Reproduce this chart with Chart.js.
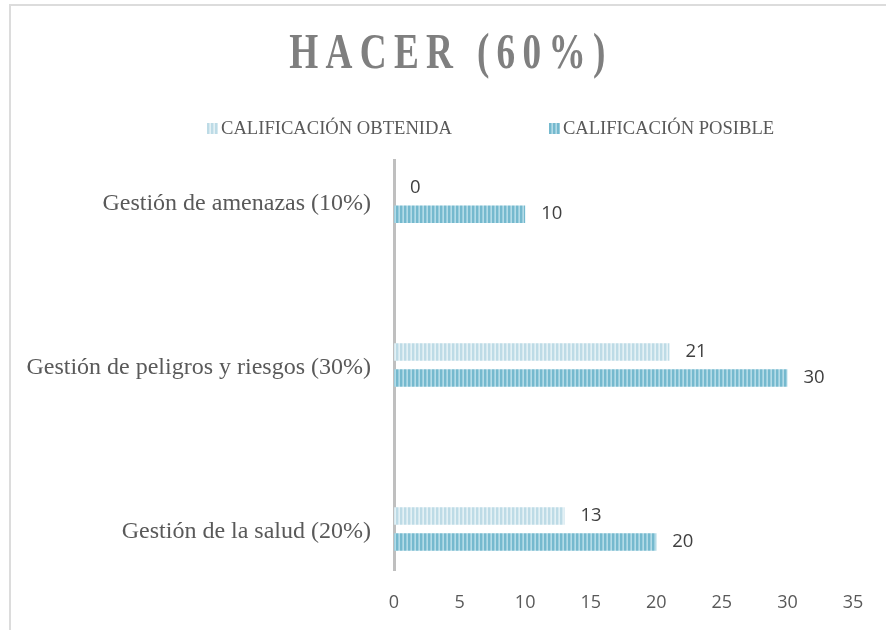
<!DOCTYPE html>
<html>
<head>
<meta charset="utf-8">
<script src="https://cdn.jsdelivr.net/npm/chart.js@4.4.1/dist/chart.umd.min.js"></script>
<style>
    html, body { margin: 0; padding: 0; background: #fff; overflow: hidden; }
    #frame { position: absolute; left: 9px; top: 4px; width: 1000px; height: 1000px; border: 2px solid #dcdcdc; }
    #wrap { position: absolute; left: 0; top: 0; width: 886px; height: 630px; }
    #legend { position: absolute; left: 207px; top: 119px; display: flex; gap: 97px;
        font-family: 'Liberation Serif', serif; font-size: 18.6px; line-height: 18px; color: #595959; }
    #legend span.item { display: flex; align-items: center; white-space: nowrap; }
    #legend i { display: inline-block; width: 11px; height: 11px; margin-right: 3px; }
</style>
</head>
<body>
<div id="frame"></div>
<div id="wrap"><canvas id="barChart"></canvas></div>
<div id="legend"></div>
<script>
const categories = ['Gestión de amenazas (10%)', 'Gestión de peligros y riesgos (30%)', 'Gestión de la salud (20%)'];
const obtenida = [0, 21, 13];
const posible = [10, 30, 20];
const seriesNames = ['CALIFICACIÓN OBTENIDA', 'CALIFICACIÓN POSIBLE'];

// vertical stripe fills like the excel pattern
function stripes(cols) {
    const c = document.createElement('canvas');
    c.width = cols.length;
    c.height = 4;
    const g = c.getContext('2d');
    cols.forEach((col, i) => { g.fillStyle = col; g.fillRect(i, 0, 1, 4); });
    return g.createPattern(c, 'repeat');
}
const lightCols = ['#bddbe6', '#bddbe6', '#d6e9f0', '#e4f1f5'];
const darkCols = ['#75b9ce', '#75b9ce', '#9ccfdf', '#b4dbe7'];

function cssStripes(cols) {
    return 'repeating-linear-gradient(90deg,' + cols.map((c, i) => c + ' ' + i + 'px ' + (i + 1) + 'px').join(',') + ')';
}

// title: condensed, letter spaced
const titleStyle = {
    id: 'titleStyle',
    afterLayout(chart) {
        const t = chart.titleBlock;
        if (!t || t._styled) return;
        const draw = t.draw.bind(t);
        t.draw = function (area) {
            const ctx = chart.ctx;
            const cx = (t.left + t.right) / 2;
            ctx.save();
            ctx.translate(cx + 11, 0);
            ctx.scale(0.73, 1);
            ctx.translate(-cx, 0);
            ctx.letterSpacing = '10px';
            draw(area);
            ctx.restore();
        };
        t._styled = true;
    }
};

const valueLabels = {
    id: 'valueLabels',
    afterDatasetsDraw(chart) {
        const ctx = chart.ctx;
        ctx.save();
        ctx.font = '18.5px "Open Sans"';
        ctx.fillStyle = '#404040';
        ctx.textAlign = 'left';
        ctx.textBaseline = 'middle';
        chart.data.datasets.forEach((ds, i) => {
            chart.getDatasetMeta(i).data.forEach((bar, j) => {
                ctx.fillText(ds.data[j].x, bar.x + 16, bar.y);
            });
        });
        ctx.restore();
    }
};

const ctxBar = document.getElementById('barChart').getContext('2d');
const barChart = new Chart(ctxBar, {
    type: 'bar',
    data: {
        datasets: [{
            label: seriesNames[0],
            data: obtenida.map((v, i) => ({ x: v, y: i })),
            backgroundColor: stripes(lightCols),
            categoryPercentage: 0.317,
            barPercentage: 0.673
        }, {
            label: seriesNames[1],
            data: posible.map((v, i) => ({ x: v, y: i })),
            backgroundColor: stripes(darkCols),
            categoryPercentage: 0.317,
            barPercentage: 0.673
        }]
    },
    options: {
        indexAxis: 'y',
        responsive: true,
        maintainAspectRatio: false,
        animation: false,
        layout: { padding: { left: 27, right: 33, top: 0, bottom: 17 } },
        plugins: {
            legend: { display: false },
            tooltip: { enabled: false },
            title: {
                display: true,
                text: 'HACER (60%)',
                color: '#7f7f7f',
                font: { family: 'Liberation Serif', size: 51, weight: 'bold' },
                padding: { top: 24, bottom: 75 }
            }
        },
        scales: {
            x: {
                min: 0,
                max: 35,
                grid: { display: false, drawTicks: false },
                border: { display: false },
                afterFit: (s) => { s.height = 43; },
                ticks: {
                    stepSize: 5,
                    padding: 22,
                    color: '#595959',
                    font: { family: 'Open Sans', size: 18 }
                }
            },
            y: {
                type: 'linear',
                reverse: true,
                offset: false,
                min: -0.25,
                max: 2.25,
                afterBuildTicks: (s) => { s.ticks = categories.map((c, i) => ({ value: i })); },
                afterFit: (s) => { s.width = 367; },
                grid: { display: false, drawTicks: false, offset: false },
                border: { display: true, color: '#bfbfbf', width: 3 },
                ticks: {
                    autoSkip: false,
                    padding: 23,
                    labelOffset: 3,
                    color: '#595959',
                    font: { family: 'Liberation Serif', size: 24 },
                    callback: (v) => categories[v]
                }
            }
        }
    },
    plugins: [titleStyle, valueLabels]
});

// html legend built from the datasets
const legendEl = document.getElementById('legend');
[lightCols, darkCols].forEach((cols, i) => {
    const item = document.createElement('span');
    item.className = 'item';
    const box = document.createElement('i');
    box.style.background = cssStripes(cols);
    item.appendChild(box);
    item.appendChild(document.createTextNode(barChart.data.datasets[i].label));
    legendEl.appendChild(item);
});
</script>
</body>
</html>
